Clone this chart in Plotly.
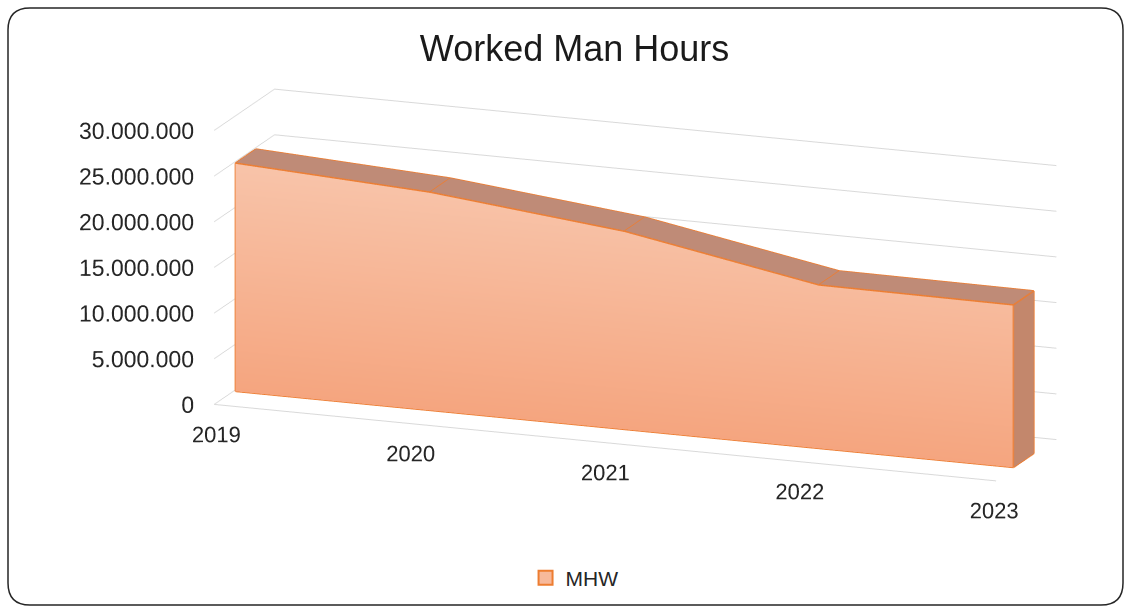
import math
import plotly.graph_objects as go

# ---- data ----
years = [2019, 2020, 2021, 2022, 2023]
mhw = [25000000, 23900000, 21700000, 17900000, 17800000]
z_ticks = [0, 5000000, 10000000, 15000000, 20000000, 25000000, 30000000]
z_tick_labels = ["0", "5.000.000", "10.000.000", "15.000.000", "20.000.000", "25.000.000", "30.000.000"]
year_labels = [str(y) for y in years]
series_name = "MHW"
title_text = "Worked Man Hours"

# ---- style constants ----
Y_FRONT = 0.32
Y_BACK = 0.66
EDGE = "#ED7D31"
GRID = "#D9D9D9"
FONT = "Liberation Sans, Arial, sans-serif"
TXT = "#262626"
W, H = 1131, 612
EPS = 0.01

flat = dict(ambient=1, diffuse=0, specular=0, roughness=1, fresnel=0)
n = len(years)

# front face
fx, fy, fz, fi, fj, fk = [], [], [], [], [], []
for x, v in zip(years, mhw):
    fx += [x, x]; fy += [Y_FRONT, Y_FRONT]; fz += [0, v]
for i in range(n - 1):
    a, b, c, d = 2 * i, 2 * i + 1, 2 * i + 2, 2 * i + 3
    fi += [a, b]; fj += [c, c]; fk += [b, d]
front = go.Mesh3d(x=fx, y=fy, z=fz, i=fi, j=fj, k=fk, intensity=fz,
                  colorscale=[[0, "#F5A57F"], [1, "#F8C5AB"]], cmin=0, cmax=26000000,
                  showscale=False, lighting=flat, hoverinfo="skip", showlegend=False)

# top face
tx, ty, tz, ti, tj, tk = [], [], [], [], [], []
for x, v in zip(years, mhw):
    tx += [x, x]; ty += [Y_FRONT, Y_BACK]; tz += [v, v]
for i in range(n - 1):
    a, b, c, d = 2 * i, 2 * i + 1, 2 * i + 2, 2 * i + 3
    ti += [a, b]; tj += [c, c]; tk += [b, d]
top = go.Mesh3d(x=tx, y=ty, z=tz, i=ti, j=tj, k=tk, color="#BF8B77",
                lighting=flat, hoverinfo="skip", showlegend=False)

# right side face
xr = years[-1]; vr = mhw[-1]
right = go.Mesh3d(x=[xr, xr, xr, xr], y=[Y_FRONT, Y_BACK, Y_BACK, Y_FRONT], z=[0, 0, vr, vr],
                  i=[0, 0], j=[1, 2], k=[2, 3], color="#C3876C",
                  lighting=flat, hoverinfo="skip", showlegend=False)

# edges
ex, ey, ez = [], [], []
def seg(xs, ys, zs):
    ex.extend(list(xs) + [None]); ey.extend(list(ys) + [None]); ez.extend(list(zs) + [None])
seg(years, [Y_FRONT] * n, mhw)
seg(years, [Y_BACK] * n, mhw)
seg([years[0], years[-1]], [Y_FRONT, Y_FRONT], [0, 0])
seg([years[0], years[0]], [Y_FRONT, Y_FRONT], [0, mhw[0]])
seg([xr, xr], [Y_FRONT, Y_FRONT], [0, vr])
seg([xr, xr], [Y_BACK, Y_BACK], [0, vr])
seg([xr, xr], [Y_FRONT, Y_BACK], [0, 0])
for x, v in zip(years, mhw):
    seg([x, x], [Y_FRONT, Y_BACK], [v, v])
edges = go.Scatter3d(x=ex, y=ey, z=ez, mode="lines", line=dict(color=EDGE, width=3),
                     hoverinfo="skip", showlegend=False)

# axis labels as screen-aligned text
z_text = go.Scatter3d(x=[years[0]] * len(z_ticks), y=[0] * len(z_ticks), z=z_ticks,
                      mode="text", text=z_tick_labels, textposition="middle left",
                      textfont=dict(size=23, color=TXT, family=FONT),
                      hoverinfo="skip", showlegend=False)
x_text = go.Scatter3d(x=years, y=[0] * n, z=[0] * n, mode="text", text=year_labels,
                      textposition="bottom center",
                      textfont=dict(size=22, color=TXT, family=FONT),
                      hoverinfo="skip", showlegend=False)

legend_dummy = go.Scatter(x=[None], y=[None], mode="markers", name=series_name,
                          marker=dict(symbol="square", size=14, color="#F7B99B",
                                      line=dict(color=EDGE, width=2)))

fig = go.Figure([front, top, right, edges, z_text, x_text, legend_dummy])

az = math.radians(20.7); el = math.radians(15)
L = 3.0
shift = -0.278
dx, dy = shift * math.cos(az), shift * math.sin(az)
eye = dict(x=L * math.sin(az) * math.cos(el) + dx, y=-L * math.cos(az) * math.cos(el) + dy,
           z=L * math.sin(el))
center = dict(x=dx, y=dy, z=0)

axis_common = dict(showbackground=False, showspikes=False, zeroline=False, title=dict(text=""))
fig.update_layout(
    width=W, height=H, margin=dict(l=0, r=0, t=0, b=0),
    paper_bgcolor="white", plot_bgcolor="rgba(0,0,0,0)",
    separators=",.",
    hovermode=False,
    font=dict(family=FONT, color=TXT, size=21),
    title=dict(text=title_text, x=0.508, xanchor="center", y=1 - 48 / H, yanchor="middle",
               yref="container", font=dict(size=36, color="#1a1a1a", family=FONT)),
    legend=dict(orientation="h", x=0.508, xanchor="center", y=1 - 578 / H, yanchor="middle",
                font=dict(size=21, color=TXT)),
    xaxis=dict(visible=False), yaxis=dict(visible=False),
    scene=dict(
        domain=dict(x=[0.0, 1.0], y=[0.125, 0.945]),
        aspectmode="manual", aspectratio=dict(x=3.33, y=0.68, z=1.13),
        camera=dict(eye=eye, up=dict(x=0, y=0, z=1), center=center,
                    projection=dict(type="orthographic")),
        xaxis=dict(range=[years[0] - EPS, years[-1] + EPS], tickvals=years, showticklabels=False,
                   showgrid=False, showline=True, linecolor=GRID, linewidth=2, ticks="",
                   **axis_common),
        yaxis=dict(range=[0, 1], showgrid=False, showticklabels=False, showline=False, ticks="",
                   **axis_common),
        zaxis=dict(range=[0, 30000000], tickvals=z_ticks, showticklabels=False, showgrid=True,
                   gridcolor=GRID, gridwidth=2, showline=False, ticks="",
                   **axis_common),
    ),
)

# rounded chart border
x0, x1 = 8 / W, 1123 / W
y0, y1 = 1 - 605 / H, 1 - 8 / H
rx, ry = 22 / W, 22 / H
path = (f"M {x0+rx},{y1} L {x1-rx},{y1} Q {x1},{y1} {x1},{y1-ry} L {x1},{y0+ry} "
        f"Q {x1},{y0} {x1-rx},{y0} L {x0+rx},{y0} Q {x0},{y0} {x0},{y0+ry} "
        f"L {x0},{y1-ry} Q {x0},{y1} {x0+rx},{y1} Z")
fig.add_shape(type="path", path=path, xref="paper", yref="paper",
              line=dict(color="#262626", width=1.5), fillcolor="rgba(0,0,0,0)", layer="above")

fig.write_html("out.html", config={"displayModeBar": False},
               post_script="document.body.style.margin='0';")
